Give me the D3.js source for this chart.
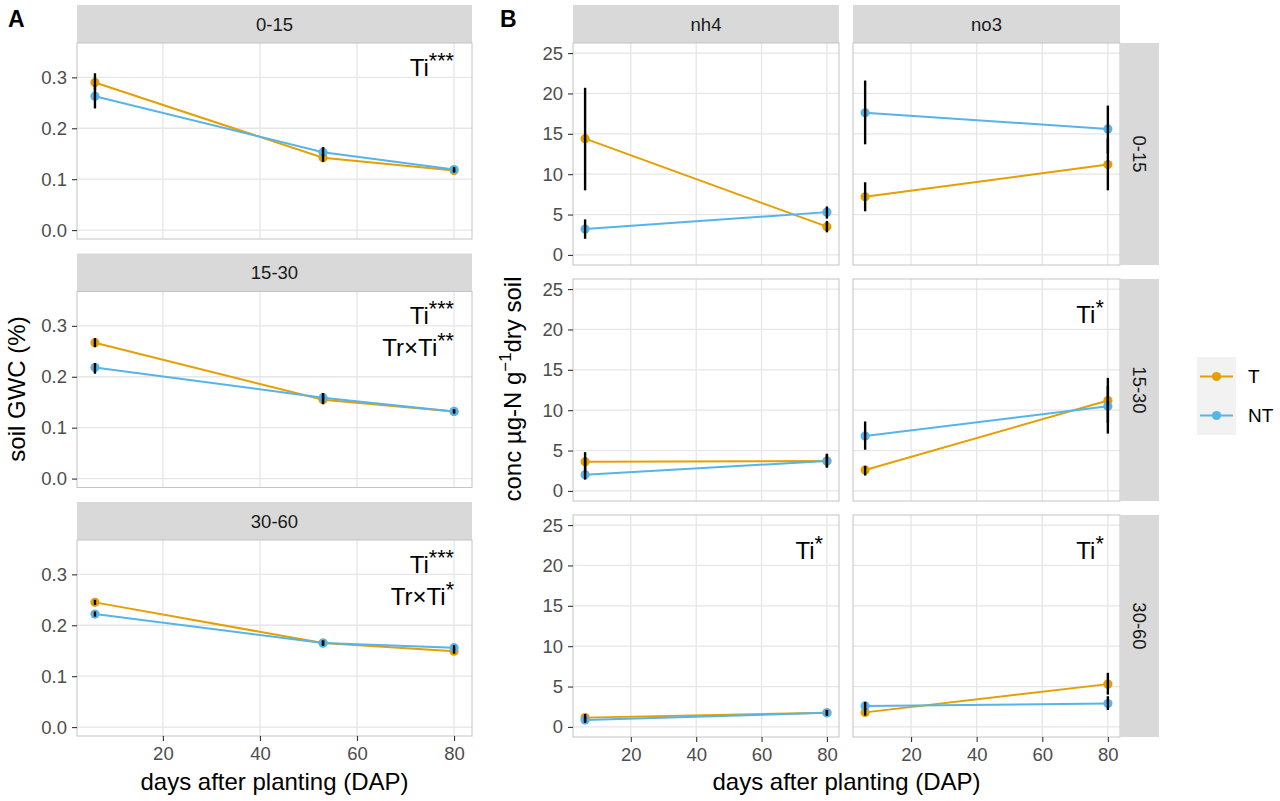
<!DOCTYPE html>
<html>
<head>
<meta charset="utf-8">
<script src="https://cdn.jsdelivr.net/npm/d3@7"></script>
<style>
body { margin: 0; background: #fff; }
text { font-family: "Liberation Sans", Arial, sans-serif; }
</style>
</head>
<body>
<div id="chart"></div>
<script>
// values
const days = [6, 53, 80];
const daysB = [6, 80];
const depths = ["0-15", "15-30", "30-60"];
const nutrients = ["nh4", "no3"];
const treatments = ["T", "NT"];
const xTicks = [20, 40, 60, 80];
const gwcTicks = [0, 0.1, 0.2, 0.3];
const concTicks = [0, 5, 10, 15, 20, 25];

// panel A: soil GWC, [depth][day]
const gwcT    = [[0.290, 0.142, 0.117], [0.267, 0.155, 0.132], [0.245, 0.165, 0.149]];
const gwcTLo  = [[0.275, 0.134, 0.113], [0.258, 0.146, 0.128], [0.240, 0.160, 0.144]];
const gwcTHi  = [[0.308, 0.150, 0.121], [0.276, 0.163, 0.136], [0.250, 0.170, 0.154]];
const gwcNT   = [[0.263, 0.153, 0.119], [0.218, 0.159, 0.132], [0.222, 0.165, 0.156]];
const gwcNTLo = [[0.239, 0.146, 0.114], [0.206, 0.151, 0.128], [0.217, 0.160, 0.151]];
const gwcNTHi = [[0.285, 0.163, 0.124], [0.227, 0.168, 0.136], [0.227, 0.170, 0.161]];

// panel B: conc, [depth][nutrient][day]
const concT    = [[[14.4, 3.5], [7.2, 11.2]], [[3.6, 3.7], [2.6, 11.2]], [[1.15, 1.75], [1.8, 5.3]]];
const concTLo  = [[[8.0, 2.8], [5.4, 8.0]],   [[2.3, 2.9], [1.9, 8.4]],  [[0.6, 1.4], [1.4, 4.0]]];
const concTHi  = [[[20.7, 4.2], [9.0, 14.4]], [[4.8, 4.5], [3.1, 14.0]], [[1.6, 2.1], [2.3, 6.7]]];
const concNT   = [[[3.2, 5.3], [17.6, 15.6]], [[2.0, 3.7], [6.8, 10.5]], [[0.85, 1.75], [2.6, 2.9]]];
const concNTLo = [[[2.0, 4.5], [13.7, 12.6]], [[1.4, 2.9], [5.1, 7.1]],  [[0.5, 1.4], [2.1, 2.1]]];
const concNTHi = [[[4.4, 6.0], [21.6, 18.5]], [[4.2, 4.6], [8.6, 13.0]], [[1.3, 2.1], [3.1, 3.8]]];

const annA = [["Ti***"], ["Ti***", "Tr×Ti**"], ["Ti***", "Tr×Ti*"]];
const annB = [[null, null], [null, "Ti*"], ["Ti*", "Ti*"]];

const clr = d3.scaleOrdinal().domain(treatments).range(["#E69F00", "#56B4E9"]);

const W = 1280, H = 801;
const svg = d3.select("#chart").append("svg").attr("width", W).attr("height", H);

const gridCol = "#E6E6E6", borderCol = "#C4C4C4", stripCol = "#D9D9D9";

function label(sel, txt) {
  const m = txt.match(/^(.*?)(\*+)$/);
  sel.append("tspan").text(m[1]);
  sel.append("tspan").attr("font-size", "90%").attr("dy", "-0.38em").text(m[2]);
}

function panel(g, x, y, yTicks, series, showY, showX, fmt) {
  const [xl, xr] = x.range(), [yb, yt] = y.range();
  g.append("rect").attr("x", xl).attr("y", yt).attr("width", xr - xl).attr("height", yb - yt).attr("fill", "#fff");
  g.selectAll(".gy").data(yTicks).enter().append("line")
    .attr("x1", xl).attr("x2", xr).attr("y1", d => y(d)).attr("y2", d => y(d))
    .attr("stroke", gridCol).attr("stroke-width", 1.3);
  g.selectAll(".gx").data(xTicks).enter().append("line")
    .attr("y1", yt).attr("y2", yb).attr("x1", d => x(d)).attr("x2", d => x(d))
    .attr("stroke", gridCol).attr("stroke-width", 1.3);

  const line = d3.line().x(d => x(d.x)).y(d => y(d.v));
  series.forEach(s => {
    g.append("path").datum(s.pts).attr("fill", "none").attr("stroke", clr(s.key))
      .attr("stroke-width", 2).attr("d", line);
  });
  series.forEach(s => {
    g.selectAll(null).data(s.pts).enter().append("circle")
      .attr("cx", d => x(d.x)).attr("cy", d => y(d.v)).attr("r", 4.6).attr("fill", clr(s.key));
  });
  series.forEach(s => {
    g.selectAll(null).data(s.pts).enter().append("line")
      .attr("x1", d => x(d.x)).attr("x2", d => x(d.x))
      .attr("y1", d => y(d.lo)).attr("y2", d => y(d.hi))
      .attr("stroke", "#000").attr("stroke-width", 2.4);
  });
  g.append("rect").attr("x", xl).attr("y", yt).attr("width", xr - xl).attr("height", yb - yt)
    .attr("fill", "none").attr("stroke", borderCol).attr("stroke-width", 1);

  if (showY) {
    const ax = g.append("g").attr("transform", `translate(${xl},0)`)
      .call(d3.axisLeft(y).tickValues(yTicks).tickSize(5).tickPadding(5).tickFormat(fmt));
    styleAxis(ax);
  }
  if (showX) {
    const ax = g.append("g").attr("transform", `translate(0,${yb})`)
      .call(d3.axisBottom(x).tickValues(xTicks).tickSize(5).tickPadding(6));
    styleAxis(ax);
  }
}

function styleAxis(ax) {
  ax.select(".domain").remove();
  ax.selectAll(".tick line").attr("stroke", "#333").attr("stroke-width", 1.1);
  ax.selectAll(".tick text").attr("fill", "#4D4D4D").style("font-size", "18.5px")
    .style("font-family", "'Liberation Sans', Arial, sans-serif");
}

function stripH(g, x0, x1, y0, y1, txt) {
  g.append("rect").attr("x", x0).attr("y", y0).attr("width", x1 - x0).attr("height", y1 - y0).attr("fill", stripCol);
  g.append("text").attr("x", (x0 + x1) / 2).attr("y", (y0 + y1) / 2).attr("dy", "0.36em")
    .attr("text-anchor", "middle").attr("fill", "#1A1A1A").style("font-size", "18.5px").text(txt);
}

// ---------- Panel A ----------
const gA = svg.append("g");
const xA = d3.scaleLinear().domain([2.3, 83.7]).range([77, 472]);
depths.forEach((dep, i) => {
  const st = 5 + i * 248.5, pt = st + 38, pb = pt + 196;
  stripH(gA, 77, 472, st, pt, dep);
  const y = d3.scaleLinear().domain([-0.0175, 0.3675]).range([pb, pt]);
  const series = [
    { key: "T", pts: days.map((d, j) => ({ x: d, v: gwcT[i][j], lo: gwcTLo[i][j], hi: gwcTHi[i][j] })) },
    { key: "NT", pts: days.map((d, j) => ({ x: d, v: gwcNT[i][j], lo: gwcNTLo[i][j], hi: gwcNTHi[i][j] })) }
  ];
  panel(gA, xA, y, gwcTicks, series, true, i === 2, d3.format(".1f"));
  annA[i].forEach((a, k) => {
    gA.append("text").attr("x", xA(80)).attr("y", y(0.303) + k * 32)
      .attr("text-anchor", "end").attr("fill", "#000").style("font-size", "24px").call(label, a);
  });
});
gA.append("text").attr("x", 8).attr("y", 27).style("font-size", "23px").style("font-weight", "bold").text("A");
gA.append("text").attr("x", (77 + 472) / 2).attr("y", 790).attr("text-anchor", "middle")
  .style("font-size", "24px").attr("fill", "#000").text("days after planting (DAP)");
gA.append("text").attr("transform", "translate(17,389) rotate(-90)").attr("dy", "0.35em")
  .attr("text-anchor", "middle").style("font-size", "24px").text("soil GWC (%)");

// ---------- Panel B ----------
const gB = svg.append("g");
const colX = [[573, 839], [853, 1120]];
const xB = colX.map(c => d3.scaleLinear().domain([2.3, 83.7]).range(c));
nutrients.forEach((n, c) => stripH(gB, colX[c][0], colX[c][1], 5, 43, n));
depths.forEach((dep, i) => {
  const pt = 43 + i * 236, pb = pt + 222;
  const y = d3.scaleLinear().domain([-1.25, 26.25]).range([pb, pt]);
  nutrients.forEach((n, c) => {
    const series = [
      { key: "T", pts: daysB.map((d, j) => ({ x: d, v: concT[i][c][j], lo: concTLo[i][c][j], hi: concTHi[i][c][j] })) },
      { key: "NT", pts: daysB.map((d, j) => ({ x: d, v: concNT[i][c][j], lo: concNTLo[i][c][j], hi: concNTHi[i][c][j] })) }
    ];
    panel(gB, xB[c], y, concTicks, series, c === 0, i === 2, d3.format("d"));
    if (annB[i][c]) {
      gB.append("text").attr("x", xB[c](80) - 4).attr("y", y(20.8))
        .attr("text-anchor", "end").attr("fill", "#000").style("font-size", "24px").call(label, annB[i][c]);
    }
  });
  // row strip on the right
  gB.append("rect").attr("x", 1120).attr("y", pt).attr("width", 39).attr("height", pb - pt).attr("fill", stripCol);
  gB.append("text").attr("transform", `translate(${1139.5},${(pt + pb) / 2}) rotate(90)`).attr("dy", "0.36em")
    .attr("text-anchor", "middle").attr("fill", "#1A1A1A").style("font-size", "18.5px").text(dep);
});
gB.append("text").attr("x", 500).attr("y", 27).style("font-size", "23px").style("font-weight", "bold").text("B");
gB.append("text").attr("x", (573 + 1120) / 2).attr("y", 790).attr("text-anchor", "middle")
  .style("font-size", "24px").text("days after planting (DAP)");
const yt = gB.append("text").attr("transform", "translate(513,389) rotate(-90)").attr("dy", "0.35em")
  .attr("text-anchor", "middle").style("font-size", "24px");
yt.append("tspan").text("conc µg-N g");
yt.append("tspan").attr("font-size", "70%").attr("dy", "-0.6em").text("−1");
yt.append("tspan").attr("dy", "0.42em").text("dry soil");

// ---------- legend ----------
const lg = svg.append("g").attr("transform", "translate(1197,357)");
treatments.forEach((t, i) => {
  lg.append("rect").attr("x", 0).attr("y", i * 39).attr("width", 39).attr("height", 39).attr("fill", "#F2F2F2");
  lg.append("line").attr("x1", 3).attr("x2", 36).attr("y1", i * 39 + 19.5).attr("y2", i * 39 + 19.5)
    .attr("stroke", clr(t)).attr("stroke-width", 2);
  lg.append("circle").attr("cx", 19.5).attr("cy", i * 39 + 19.5).attr("r", 4.6).attr("fill", clr(t));
  lg.append("text").attr("x", 51).attr("y", i * 39 + 19.5).attr("dy", "0.36em")
    .style("font-size", "19px").attr("fill", "#000").text(t);
});
</script>
</body>
</html>
